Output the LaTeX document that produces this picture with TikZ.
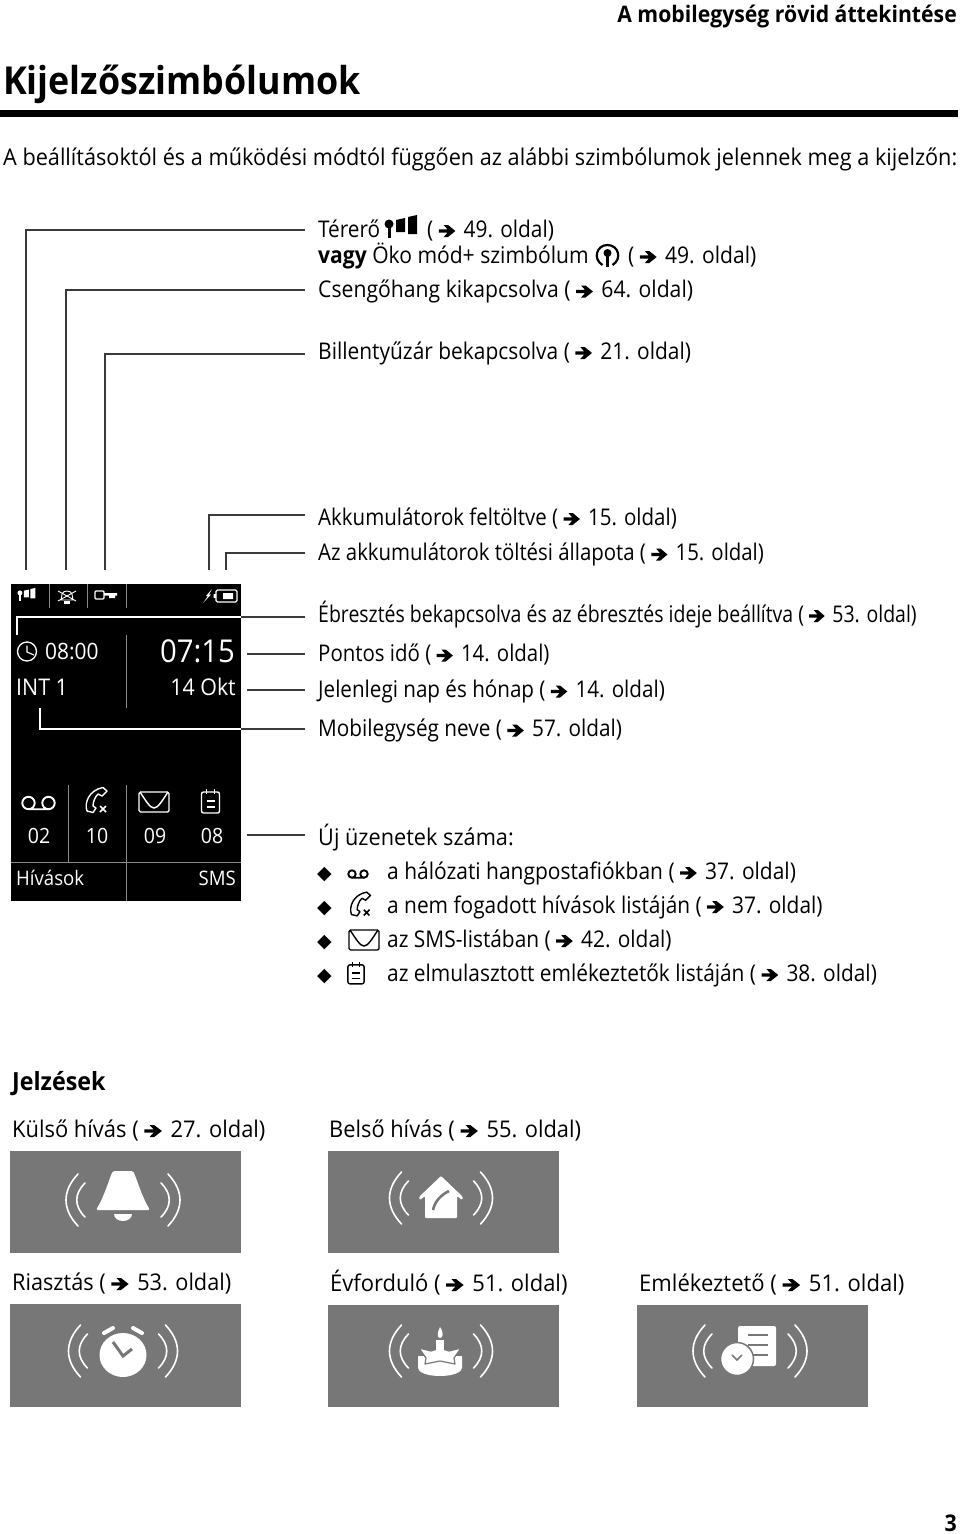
\documentclass[tikz,border=0pt]{standalone}
\usepackage{fontspec}
\setmainfont[FakeStretch=0.93]{Open Sans}
\newfontfamily\jelfont{DejaVu Sans}
\newcommand{\ny}{\tikz[x=1pt,y=1pt,baseline=0pt]{\fill (0,4.4) -- (9,4.4) -- (5,0) -- (9.5,0) -- (17,6) -- (9.5,12) -- (5,12) -- (9,7.6) -- (0,7.6) -- cycle;}\hspace{3pt}}
\newcommand{\szk}[2]{\scalebox{#1}[1]{#2}}
\definecolor{panel}{HTML}{777777}
\definecolor{vonal}{HTML}{3A3A3A}
\definecolor{racs}{HTML}{8A8A8A}
\tikzset{
  felirat/.style={anchor=west, inner xsep=13pt, inner ysep=0pt, text height=#1, text depth=5pt, font=\fontsize{23}{23}\selectfont},
  felirat/.default=20pt,
  szoveg/.style={anchor=base west, inner sep=0pt, font=\fontsize{23}{23}\selectfont},
  kijelzo/.style={anchor=base west, inner sep=0pt, text=white, font=\fontsize{22.5}{22.5}\selectfont},
  vez/.style={draw=vonal, line width=1.3pt},
  vezfeher/.style={draw=white, line width=1.3pt},
  racsvonal/.style={draw=racs, line width=.5pt},
  pics/wellen/.style={code={
    \draw[white, line width=1.6pt, line cap=round]
      ({-#1+12},-26) .. controls ({-#1-4},-9) and ({-#1-4},9) .. ({-#1+12},26)
      ({-#1+19},-17) .. controls ({-#1+8},-6) and ({-#1+8},6) .. ({-#1+19},17)
      ({#1-12},-26) .. controls ({#1+4},-9) and ({#1+4},9) .. ({#1-12},26)
      ({#1-19},-17) .. controls ({#1-8},-6) and ({#1-8},6) .. ({#1-19},17);
  }},
  pics/jelero/.style={code={
    \fill[#1] (-11,-2) circle (4.5);
    \fill[#1] (-12.5,-2) rectangle (-9.5,12);
    \fill[#1] (-4,-6) -- (5,-8) -- (5,6) -- (-4,6) -- cycle;
    \fill[#1] (8,-9) -- (17,-11) -- (17,8) -- (8,8) -- cycle;
  }},
  pics/oko/.style={code={
    \draw[#1, line width=2.2pt] (-5,10) .. controls (-15,4) and (-11,-10) .. (0,-10) .. controls (11,-10) and (15,4) .. (5,10);
    \fill[#1] (0,-2) circle (4);
    \fill[#1] (-1.3,-2) rectangle (1.3,12);
  }},
  pics/hangposta/.style={code={
    \draw[#1, line width=1.9pt] (-10,0) circle (6.2) (10,0) circle (6.2) (-10,6.2) -- (10,6.2);
  }},
  pics/nemfogadott/.style={code={
    \draw[#1, line width=1.4pt, line join=round] (-9,11) .. controls (-12,3) and (-7,-10) .. (7,-12.5) -- (11,-9) -- (6,-4) -- (2,-6) .. controls (-1,-3) and (-3,2) .. (-3,6) -- (0,8) -- (-3,12.5) -- cycle;
    \draw[#1, line width=1.6pt] (4,6) -- (10,12) (10,6) -- (4,12);
  }},
  pics/boritek/.style={code={
    \draw[#1, line width=1.4pt, rounded corners=1.5pt] (-15,-10) rectangle (15,10);
    \draw[#1, line width=1.4pt] (-14,-10) .. controls (-8,-1) and (-4,6) .. (0,6) .. controls (4,6) and (8,-1) .. (14,-10);
  }},
  pics/jegyzet/.style={code={
    \draw[#1, line width=1.4pt, rounded corners=2pt] (-9,-9) -- (-9,12) -- (9,12) -- (9,-9) -- cycle;
    \draw[#1, line width=1.3pt] (-4,-12) -- (-4,-7) (4,-12) -- (4,-7) (-4,0) -- (4,0) (-4,6) -- (4,6);
  }},
  pics/harang/.style={code={
    \fill[white, rounded corners=1.5pt] (-27,11) .. controls (-18,-4) and (-14,-20) .. (-10,-28) -- (10,-28) .. controls (14,-20) and (18,-4) .. (27,11) -- cycle;
    \fill[white] (-9,15) arc (180:0:9 and 7) -- cycle;
  }},
  pics/hazjel/.style={code={
    \fill[white, rounded corners=1pt] (0,-21) -- (22,0) -- (21,3) -- (16,-1) -- (16,21) -- (-16,21) -- (-16,-1) -- (-21,3) -- (-22,0) -- cycle;
    \draw[panel, line width=2.6pt] (-8,13) .. controls (-6,4) and (0,-2) .. (8,-6);
  }},
  pics/ebreszto/.style={code={
    \fill[white] (0,4) ellipse (23.5 and 22);
    \draw[white, line width=4pt, line cap=round] (-19,-18) -- (-10,-23) (19,-18) -- (10,-23);
    \draw[panel, line width=3pt] (-10,-9) -- (0,5) -- (9,-2);
  }},
  pics/torta/.style={code={
    \fill[white] (-22,5) -- (-22,17) arc (180:0:22 and 8) -- (22,5) -- cycle;
    \draw[panel, line width=1.2pt, fill=white, line join=round] (-21,-3) -- (-9,0) -- (0,-3) -- (9,0) -- (21,-3) -- (14,7) -- (15,13) -- (0,10) -- (-15,13) -- (-14,7) -- cycle;
    \fill[white] (-4,-11) rectangle (4,5);
    \fill[white] (0,-24) .. controls (4,-18) and (3,-13) .. (0,-13) .. controls (-3,-13) and (-3,-18) .. (0,-24);
  }},
  pics/emlek/.style={code={
    \fill[white, rounded corners=2pt] (-12,-25) rectangle (26,15);
    \draw[panel, line width=1.6pt] (-2,-16) -- (18,-16) (-2,-6) -- (18,-6) (-2,4) -- (18,4);
    \draw[panel, line width=1.5pt, fill=white] (-13,8) circle (16.5);
    \draw[panel, line width=1.6pt] (-18,4) -- (-13,9) -- (-8,4);
  }}
}
\begin{document}
\begin{tikzpicture}[x=1pt, y=-1pt]
  \useasboundingbox (0,0) rectangle (960,1534);

  \coordinate (J1) at (26,570);
  \coordinate (J2) at (66,570);
  \coordinate (J3) at (105,570);
  \coordinate (J4) at (209,570);
  \coordinate (J5) at (226,570);
  \coordinate (K1) at (17,635);
  \coordinate (K2) at (40,708);
  \coordinate (K3) at (247,654);
  \coordinate (K4) at (247,690);
  \coordinate (K5) at (247,835);
  \coordinate (KE) at (241,617);
  \coordinate (KM) at (241,729);

  \fill[black] (11,584) rectangle (241,901);
  \fill[black] (0,110) rectangle (958,117);
  \draw[racsvonal] (49,584) -- (49,608) (87,584) -- (87,608) (126,584) -- (126,608);
  \draw[racsvonal] (126,635) -- (126,708);
  \draw[racsvonal] (68,785) -- (68,862) (126,785) -- (126,901) (11,862) -- (241,862);

  \node[anchor=base east, inner sep=0pt, font=\bfseries\fontsize{22.8}{22.8}\selectfont] (fej) at (957,22) {A mobilegység rövid áttekintése};
  \node[anchor=base west, inner sep=0pt, font=\bfseries\fontsize{38.5}{38.5}\selectfont] (cim) at (3,94) {Kijelzőszimbólumok};
  \node[szoveg] (bev) at (3,165) {\szk{1.013}{A beállításoktól és a működési módtól függően az alábbi szimbólumok jelennek meg a kijelzőn:}};

  \node[felirat] (terero) at (305,230) {\szk{.97}{Térerő}};
  \node[szoveg] (terero2) at (427,237) {\szk{.975}{( \ny\ 49. oldal)}};
  \node[szoveg] (oko) at (318,263) {\szk{.985}{\textbf{vagy} Öko mód+ szimbólum}};
  \node[szoveg] (oko2) at (628,263) {\szk{.985}{( \ny\ 49. oldal)}};
  \node[felirat] (cseng) at (305,290) {\szk{.99}{Csengőhang kikapcsolva ( \ny\ 64. oldal)}};
  \node[felirat=15pt] (bill) at (305,354) {\szk{.978}{Billentyűzár bekapcsolva ( \ny\ 21. oldal)}};
  \node[felirat=25pt] (akku) at (305,515) {\szk{.958}{Akkumulátorok feltöltve ( \ny\ 15. oldal)}};
  \node[felirat] (tolt) at (305,553) {\szk{.953}{Az akkumulátorok töltési állapota ( \ny\ 15. oldal)}};
  \node[felirat=15pt] (ebr) at (305,617) {\szk{.91}{Ébresztés bekapcsolva és az ébresztés ideje beállítva ( \ny\ 53. oldal)}};
  \node[felirat] (pont) at (305,654) {\szk{.955}{Pontos idő ( \ny\ 14. oldal)}};
  \node[felirat] (nap) at (305,690) {\szk{.964}{Jelenlegi nap és hónap ( \ny\ 14. oldal)}};
  \node[felirat] (mob) at (305,729) {\szk{.97}{Mobilegység neve ( \ny\ 57. oldal)}};
  \node[felirat=25pt] (uj) at (305,835) {\szk{1.015}{Új üzenetek száma:}};

  \draw[vez] (terero.west) -| (J1);
  \draw[vez] (cseng.west) -| (J2);
  \draw[vez] (bill.west) -| (J3);
  \draw[vez] (akku.west) -| (J4);
  \draw[vez] (tolt.west) -| (J5);
  \draw[vez] (ebr.west) -- (KE);
  \draw[vezfeher] (KE) -| (K1);
  \draw[vez] (pont.west) -- (K3);
  \draw[vez] (nap.west) -- (K4);
  \draw[vez] (mob.west) -- (KM);
  \draw[vezfeher] (KM) -| (K2);
  \draw[vez] (uj.west) -- (K5);

  \foreach \y/\szam in {879/1,913/2,947/3,981/4}
    \node[anchor=base west, inner sep=0pt, font=\jelfont\fontsize{19}{19}\selectfont] (gy\szam) at (317,\y) {◆};
  \node[szoveg] (l1) at (387,879) {\szk{.98}{a hálózati hangpostafiókban ( \ny\ 37. oldal)}};
  \node[szoveg] (l2) at (387,913) {\szk{.976}{a nem fogadott hívások listáján ( \ny\ 37. oldal)}};
  \node[szoveg] (l3) at (387,947) {\szk{.976}{az SMS-listában ( \ny\ 42. oldal)}};
  \node[szoveg] (l4) at (387,981) {\szk{.976}{az elmulasztott emlékeztetők listáján ( \ny\ 38. oldal)}};

  \pic at (400,226) {jelero=black};
  \pic at (607.5,255) {oko=black};
  \pic[scale=.6] at (358,874) {hangposta=black};
  \pic[scale=.95] at (360,904) {nemfogadott=black};
  \pic at (364,940) {boritek=black};
  \pic[scale=.9] at (356,973) {jegyzet=black};

  \pic[scale=.55] at (26,594) {jelero=white};
  \draw[white, line width=.9pt] (61,600) -- (62,594) .. controls (63,590) and (71,590) .. (72,594) -- (73,600) -- cycle (58,591) -- (76,601) (76,591) -- (58,601);
  \fill[white] (64,601) rectangle (70,604);
  \draw[white, line width=1.1pt, rounded corners=1pt] (95,591) rectangle (104,599);
  \fill[white] (104,593) rectangle (117,595.5) (109,595) rectangle (115,598);
  \fill[white] (212,589) -- (206,596) -- (208,596) -- (203,603) -- (211,594.5) -- (209,594.5) -- cycle;
  \draw[white, line width=1.1pt, rounded corners=1.5pt] (216,590) rectangle (237,602);
  \fill[white] (213.5,594) rectangle (216,598) (223,593) rectangle (233,599);
  \draw[white, line width=1.3pt] (27,651.5) circle (9.5);
  \draw[white, line width=1.1pt] (27,645.5) -- (27,652) -- (34,655);

  \node[kijelzo] (ebido) at (45,659) {08:00};
  \node[kijelzo, anchor=base east, font=\fontsize{31.5}{31.5}\selectfont] (ido) at (235,662) {07:15};
  \node[kijelzo, font=\fontsize{23}{23}\selectfont] (nev) at (16,695) {INT 1};
  \node[kijelzo, anchor=base east, font=\fontsize{23}{23}\selectfont] (datum) at (236,695) {14 Okt};

  \pic at (38.5,803) {hangposta=white};
  \pic at (96,800) {nemfogadott=white};
  \pic at (154,802) {boritek=white};
  \pic at (210.5,801) {jegyzet=white};
  \foreach \x/\szam in {39/02,97/10,155/09,212/08}
    \node[kijelzo, anchor=base, font=\fontsize{21}{21}\selectfont] (db\szam) at (\x,843) {\szam};
  \node[kijelzo, font=\fontsize{20}{20}\selectfont] (hiv) at (16,885) {Hívások};
  \node[kijelzo, anchor=base east, font=\fontsize{20}{20}\selectfont] (sms) at (236,885) {SMS};

  \node[anchor=base west, inner sep=0pt, font=\bfseries\fontsize{25}{25}\selectfont] (jel) at (12,1090) {Jelzések};
  \node[szoveg] (kulso) at (12,1137) {\szk{1.024}{Külső hívás ( \ny\ 27. oldal)}};
  \node[szoveg] (belso) at (329,1137) {\szk{1.02}{Belső hívás ( \ny\ 55. oldal)}};
  \node[szoveg] (riaszt) at (12,1290) {\szk{1.014}{Riasztás ( \ny\ 53. oldal)}};
  \node[szoveg] (evf) at (330,1291) {\szk{1.026}{Évforduló ( \ny\ 51. oldal)}};
  \node[szoveg] (eml) at (639,1291) {\szk{1.03}{Emlékeztető ( \ny\ 51. oldal)}};

  \fill[panel] (10,1151) rectangle (241,1253);
  \fill[panel] (328,1151) rectangle (559,1253);
  \fill[panel] (10,1304) rectangle (241,1407);
  \fill[panel] (328,1305) rectangle (559,1407);
  \fill[panel] (637,1305) rectangle (868,1407);

  \pic at (123,1200) {wellen=57};
  \pic at (123,1199) {harang};
  \pic at (441,1198) {wellen=51.5};
  \pic at (441,1197) {hazjel};
  \pic at (123,1351) {wellen=54.5};
  \pic at (123,1351) {ebreszto};
  \pic at (441,1351) {wellen=51.5};
  \pic at (440,1351) {torta};
  \pic at (750,1351) {wellen=57};
  \pic at (750,1351) {emlek};

  \node[anchor=base east, inner sep=0pt, font=\bfseries\fontsize{23}{23}\selectfont] (old) at (957,1531) {3};
\end{tikzpicture}
\end{document}
